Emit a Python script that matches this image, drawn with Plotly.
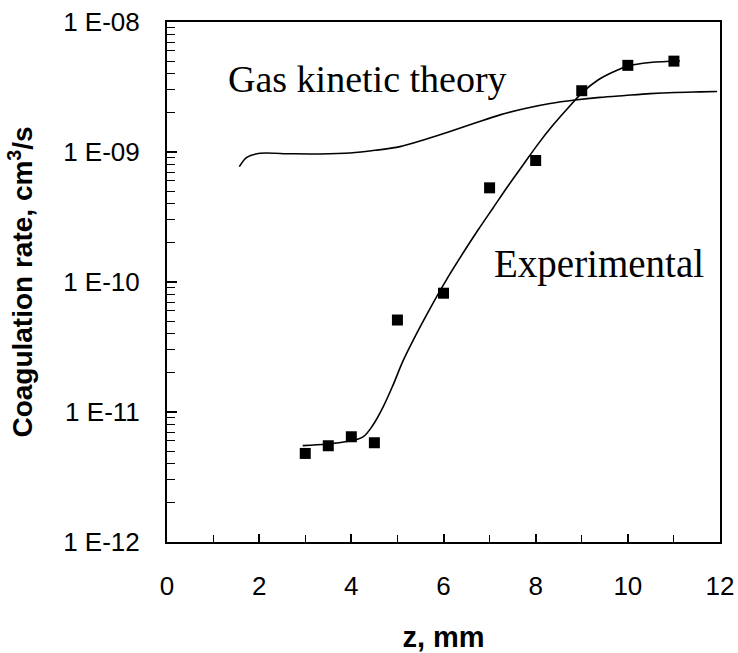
import plotly.graph_objects as go

# Experimental data points (z in mm, coagulation rate cm^3/s)
exp_z = [3, 3.5, 4, 4.5, 5, 6, 7, 8, 9, 10, 11]
exp_rate = [4.8e-12, 5.5e-12, 6.45e-12, 5.8e-12, 5.1e-11, 8.2e-11, 5.3e-10, 8.6e-10, 2.96e-9, 4.64e-9, 5.0e-9]

# Experimental fit curve
fit_z = [2.945, 3.472, 3.971, 4.253, 4.470, 4.688, 4.905, 5.122, 5.447, 5.773, 6.098,
         6.424, 6.749, 7.075, 7.400, 7.726, 8.051, 8.377, 8.702, 9.028, 9.353, 9.679,
         10.004, 10.482, 11.133]
fit_rate = [5.51e-12, 5.68e-12, 5.98e-12, 6.43e-12, 7.94e-12, 1.09e-11, 1.61e-11, 2.47e-11,
            4.20e-11, 6.89e-11, 1.09e-10, 1.67e-10, 2.51e-10, 3.71e-10, 5.47e-10, 7.94e-10,
            1.15e-9, 1.61e-9, 2.18e-9, 2.90e-9, 3.58e-9, 4.12e-9, 4.59e-9, 4.88e-9, 5.01e-9]

# Gas kinetic theory curve
gas_z = [1.569, 1.730, 2.018, 2.669, 3.320, 3.971, 4.514, 5.056, 5.599, 6.141, 6.684,
         7.227, 7.769, 8.312, 8.854, 9.397, 9.939, 10.482, 11.024, 11.567, 11.936]
gas_rate = [7.71e-10, 9.10e-10, 9.77e-10, 9.69e-10, 9.66e-10, 9.83e-10, 1.03e-9, 1.10e-9,
            1.25e-9, 1.44e-9, 1.67e-9, 1.93e-9, 2.16e-9, 2.36e-9, 2.51e-9, 2.63e-9, 2.72e-9,
            2.81e-9, 2.87e-9, 2.90e-9, 2.92e-9]

y_tickvals = [1e-12, 1e-11, 1e-10, 1e-9, 1e-8]
y_ticktext = ["1 E-12", "1 E-11", "1 E-10", "1 E-09", "1 E-08"]
y_minor = [k * 10.0 ** e for e in range(-12, -8) for k in range(2, 10)]

x_tickvals = [0, 2, 4, 6, 8, 10, 12]

fig = go.Figure()
fig.add_trace(go.Scatter(x=gas_z, y=gas_rate, mode="lines",
                         line=dict(color="black", width=1.6, shape="spline", smoothing=0.8),
                         showlegend=False))
fig.add_trace(go.Scatter(x=fit_z, y=fit_rate, mode="lines",
                         line=dict(color="black", width=1.6, shape="spline", smoothing=1.0),
                         showlegend=False))
fig.add_trace(go.Scatter(x=exp_z, y=exp_rate, mode="markers",
                         marker=dict(symbol="square", size=11, color="black"),
                         showlegend=False))

fig.add_annotation(x=1.27, y=-8.44, xref="x", yref="y", text="Gas kinetic theory",
                   showarrow=False, xanchor="left", yanchor="middle",
                   font=dict(family="Liberation Serif, Times New Roman, serif", size=38, color="black"))
fig.add_annotation(x=7.05, y=-9.86, xref="x", yref="y", text="Experimental",
                   showarrow=False, xanchor="left", yanchor="middle",
                   font=dict(family="Liberation Serif, Times New Roman, serif", size=39, color="black"))

fig.update_layout(
    width=738, height=653,
    margin=dict(l=167, r=18, t=22, b=111),
    plot_bgcolor="white", paper_bgcolor="white",
    font=dict(family="Liberation Sans, Arial, sans-serif", color="black"),
)
fig.update_xaxes(
    range=[0, 12], tickmode="array", tickvals=x_tickvals,
    ticks="inside", ticklen=8, tickwidth=1.5, tickcolor="black",
    showline=True, linecolor="black", linewidth=2, mirror=True,
    showgrid=False, zeroline=False, automargin=False,
    tickfont=dict(size=26), ticklabelstandoff=20,
    minor=dict(ticks="inside", ticklen=7, tickwidth=1.2, tickcolor="black", dtick=1, showgrid=False),
    title=dict(text="<b>z, mm</b>", font=dict(size=29), standoff=28),
)
fig.update_yaxes(
    type="log", range=[-12, -8], tickmode="array", tickvals=y_tickvals, ticktext=y_ticktext,
    ticks="inside", ticklen=10, tickwidth=1.5, tickcolor="black",
    showline=True, linecolor="black", linewidth=2, mirror=True,
    showgrid=False, zeroline=False, automargin=False,
    tickfont=dict(size=26), ticklabelstandoff=20,
    minor=dict(ticks="inside", ticklen=8, tickwidth=1.2, tickcolor="black",
               tickmode="array", tickvals=y_minor, showgrid=False),
    title=dict(text="<b>Coagulation rate, cm<sup>3</sup>/s</b>", font=dict(size=28), standoff=22),
)

fig.write_html("out.html")
